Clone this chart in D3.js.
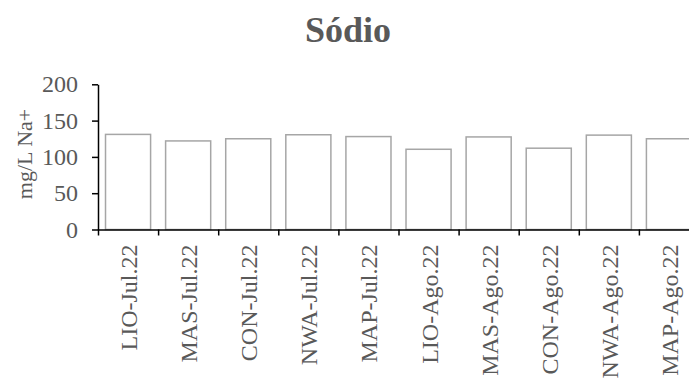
<!DOCTYPE html>
<html>
<head>
<meta charset="utf-8">
<script src="https://cdn.jsdelivr.net/npm/d3@7"></script>
<style>
  html, body { margin: 0; padding: 0; background: #fff; }
  svg { display: block; }
</style>
</head>
<body>
<svg id="chart" width="689" height="378"></svg>
<script>
// Sodium concentration per sampling site and month
const categories = [
  "LIO-Jul.22", "MAS-Jul.22", "CON-Jul.22", "NWA-Jul.22", "MAP-Jul.22",
  "LIO-Ago.22", "MAS-Ago.22", "CON-Ago.22", "NWA-Ago.22", "MAP-Ago.22"
];
const sodium = [131, 122, 125, 130.5, 128, 110.5, 127.5, 112, 130, 125];
const yTicks = [0, 50, 100, 150, 200];

const svg = d3.select("#chart");
const textColor = "#595959";
const font = "'Liberation Serif', 'Times New Roman', serif";

const plotLeft = 98, plotRight = 699, plotTop = 84.3, plotBottom = 229.5;

const x = d3.scaleBand()
  .domain(categories)
  .range([plotLeft, plotRight])
  .paddingInner(0.25)
  .paddingOuter(0.125);

// boundary ticks between categories
const xEdge = d3.scaleLinear().domain([0, categories.length]).range([plotLeft, plotRight]);

const y = d3.scaleLinear().domain([0, 200]).range([plotBottom, plotTop]);

// title
svg.append("text")
  .attr("x", 348)
  .attr("y", 42)
  .attr("text-anchor", "middle")
  .attr("font-family", font)
  .attr("font-weight", "bold")
  .attr("font-size", 36)
  .attr("fill", textColor)
  .text("Sódio");

// bars
svg.append("g")
  .selectAll("rect")
  .data(categories)
  .join("rect")
  .attr("x", d => x(d))
  .attr("y", (d, i) => y(sodium[i]))
  .attr("width", x.bandwidth())
  .attr("height", (d, i) => y(0) - y(sodium[i]))
  .attr("fill", "#ffffff")
  .attr("stroke", "#a6a6a6")
  .attr("stroke-width", 1.5);

// y axis
const yAxis = svg.append("g")
  .attr("transform", `translate(${plotLeft},0)`)
  .call(d3.axisLeft(y).tickValues(yTicks).tickSize(6).tickSizeOuter(0).tickPadding(14));
yAxis.select(".domain").attr("stroke", "#000").attr("stroke-width", 1.5);
yAxis.selectAll(".tick line").attr("stroke", "#000").attr("stroke-width", 1.5);
yAxis.selectAll(".tick text")
  .attr("font-family", font)
  .attr("font-size", 24)
  .attr("fill", textColor);

// x axis line with boundary ticks
const xAxis = svg.append("g")
  .attr("transform", `translate(0,${plotBottom})`)
  .call(d3.axisBottom(xEdge).tickValues(d3.range(0, categories.length + 1)).tickFormat("").tickSize(6).tickSizeOuter(0));
xAxis.select(".domain").attr("stroke", "#000").attr("stroke-width", 1.5);
xAxis.selectAll(".tick line").attr("stroke", "#000").attr("stroke-width", 1.5);

// category labels, rotated
svg.append("g")
  .selectAll("text")
  .data(categories)
  .join("text")
  .attr("transform", d => `translate(${x(d) + x.bandwidth() / 2 + 9},${plotBottom + 15}) rotate(-90)`)
  .attr("text-anchor", "end")
  .attr("font-family", font)
  .attr("font-size", 24)
  .attr("fill", textColor)
  .text(d => d);

// y axis title
svg.append("text")
  .attr("transform", `translate(32,154) rotate(-90)`)
  .attr("text-anchor", "middle")
  .attr("font-family", font)
  .attr("font-size", 22)
  .attr("fill", textColor)
  .text("mg/L Na+");
</script>
</body>
</html>
